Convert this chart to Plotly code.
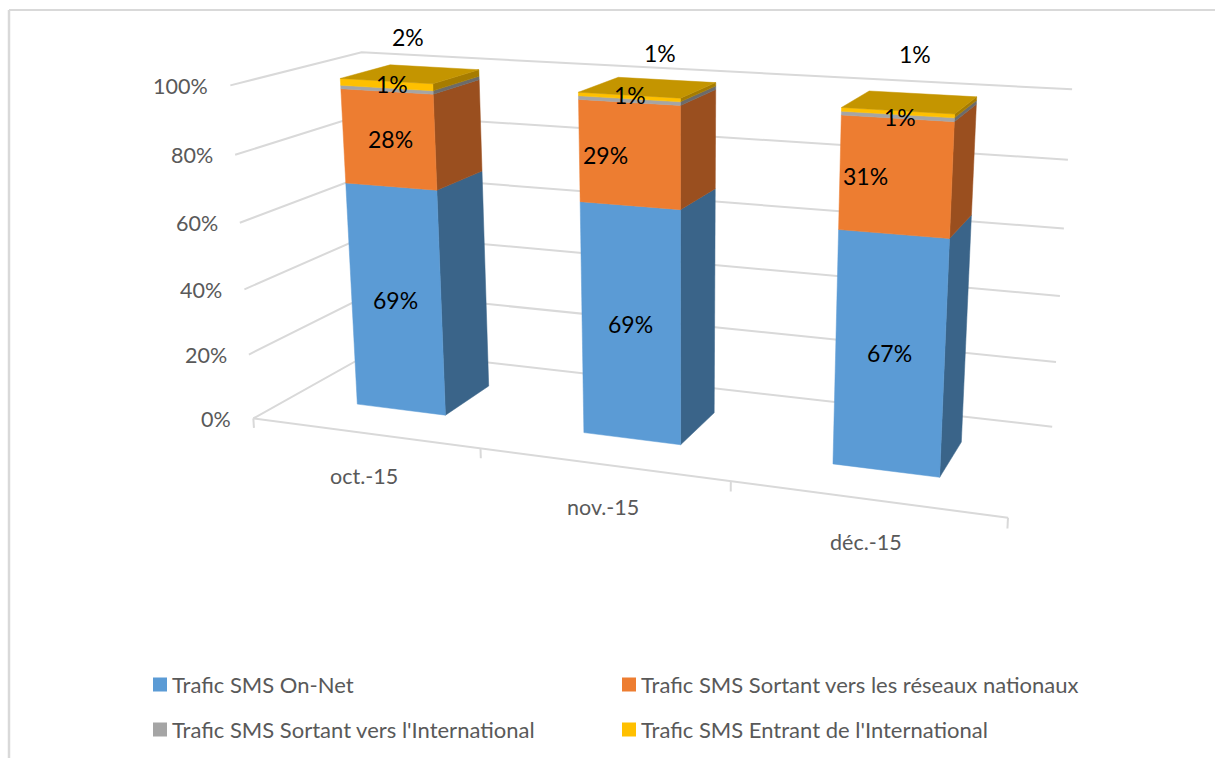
import numpy as np
import plotly.graph_objects as go

# ---- data ----
months = ["oct.-15", "nov.-15", "déc.-15"]
on_net = [69, 69, 67]
nationaux = [28, 29, 31]
sortant_intl = [1, 1, 1]
entrant_intl = [2, 1, 1]
pct_ticks = [0, 20, 40, 60, 80, 100]

series_names = [
    "Trafic SMS On-Net",
    "Trafic SMS Sortant vers les réseaux nationaux",
    "Trafic SMS Sortant vers l'International",
    "Trafic SMS Entrant de l'International",
]
series_values = [on_net, nationaux, sortant_intl, entrant_intl]

# ---- styles ----
FRONT = ["#5B9BD5", "#ED7D31", "#A5A5A5", "#FFC000"]
SIDE = ["#3A6489", "#9A4F1F", "#6B6B6B", "#A67C00"]
TOP = "#C49500"
GRID = "#D9D9D9"
FONT = "Lato"

# ---- projection of the Excel 3-D box (category, depth, percent) onto the page ----
ref_world = [(0, 0, 0), (1, 0, 0), (2, 0, 0), (3, 0, 0), (3, 1, 0), (0, 1, 0),
             (0, 0, 100), (0, 1, 100), (3, 1, 100)]
ref_page = [(253, 418), (481, 448), (731, 481), (1008, 518), (1052, 427), (376, 350),
            (230, 86), (362, 52), (1072, 89)]
rows = []
for (wx, wy, wz), (px, py) in zip(ref_world, ref_page):
    v = [wx, wy, wz / 100, 1]
    rows.append(v + [0, 0, 0, 0] + [-px * c for c in v])
    rows.append([0, 0, 0, 0] + v + [-py * c for c in v])
P = np.linalg.svd(np.array(rows, float))[2][-1].reshape(3, 4)


def proj(cat, depth, pct):
    h = P @ np.array([cat, depth, pct / 100, 1.0])
    return float(h[0] / h[2]), float(h[1] / h[2])


def line(points):
    xy = [proj(*p) for p in points]
    return [a for a, _ in xy], [b for _, b in xy]


fig = go.Figure()


def add_poly(points, color, name):
    x, y = line(points)
    fig.add_trace(go.Scatter(x=x + x[:1], y=y + y[:1], mode="lines", fill="toself",
                             fillcolor=color, line=dict(color=color, width=0.5),
                             name=name, showlegend=False, hoverinfo="name"))


def add_line(points, name="grille"):
    x, y = line(points)
    fig.add_trace(go.Scatter(x=x, y=y, mode="lines", line=dict(color=GRID, width=2),
                             name=name, showlegend=False, hoverinfo="skip"))


# walls and floor edge
for t in pct_ticks:
    add_line([(0, 0, t), (0, 1, t), (3, 1, t)])
add_line([(0, 0, 0), (3, 0, 0)], "axe")
for i in range(len(months) + 1):
    add_line([(i, 0, 0), (i, 0, -3)], "graduation")

# stacked columns
GAP = 0.3
for i in range(len(months)):
    x0, x1 = i + GAP, i + 1 - GAP
    y0, y1 = GAP, 1 - GAP
    base = 0
    for s, vals in enumerate(series_values):
        top = base + vals[i]
        add_poly([(x1, y0, base), (x1, y1, base), (x1, y1, top), (x1, y0, top)], SIDE[s], series_names[s])
        add_poly([(x0, y0, base), (x1, y0, base), (x1, y0, top), (x0, y0, top)], FRONT[s], series_names[s])
        base = top
    add_poly([(x0, y0, base), (x1, y0, base), (x1, y1, base), (x0, y1, base)], TOP, series_names[-1])

annots = []


def note(x, y, text, size, color, dx=0, dy=0, xanchor="center"):
    annots.append(dict(x=x, y=y, xref="x", yref="y", text=text, showarrow=False,
                       xanchor=xanchor, yanchor="middle", xshift=dx, yshift=-dy,
                       font=dict(family=FONT, size=size, color=color)))


# value axis labels
for t in pct_ticks:
    x, y = proj(0, 0, t)
    note(x, y, f"{t}%", 21.5, "#595959", dx=-20, dy=0.5, xanchor="right")

# category labels
for i, m in enumerate(months):
    x, y = proj(i + 0.5, 0, 0)
    note(x, y, m, 21.5, "#595959", dy=43)

# data labels, with the manual offsets seen on the chart (month, series)
label_offsets = [
    [(-1, 0), (2, 0), (5, -6), (22, -48)],
    [(0, 0), (-24, 1), (1, -6), (31, -44)],
    [(0, -1), (-30, -1), (3, 1), (18, -59)],
]
for i in range(len(months)):
    base = 0
    for s, vals in enumerate(series_values):
        mid = base + vals[i] / 2
        x, y = proj(i + 0.5, GAP, mid)
        dx, dy = label_offsets[i][s]
        note(x, y, f"{vals[i]}%", 23, "#000000", dx, dy)
        base += vals[i]

# legend
legend_cols = [153, 622]
legend_rows = [684.5, 729.5]
for s, name in enumerate(series_names):
    lx, ly = legend_cols[s % 2], legend_rows[s // 2]
    fig.add_trace(go.Scatter(x=[lx + 7], y=[ly], mode="markers",
                             marker=dict(symbol="square", size=14, color=FRONT[s], line=dict(width=0)),
                             name=name, showlegend=False, hoverinfo="name"))
    note(lx + 17, ly, name, 22, "#595959", xanchor="left")

fig.update_layout(
    width=1215, height=758, margin=dict(l=0, r=0, t=0, b=0),
    paper_bgcolor="white", plot_bgcolor="white",
    xaxis=dict(range=[0, 1215], visible=False, fixedrange=True),
    yaxis=dict(range=[758, 0], visible=False, fixedrange=True),
    annotations=annots,
    shapes=[
        dict(type="line", xref="paper", yref="paper", x0=9 / 1215, x1=1, y0=1 - 10 / 758, y1=1 - 10 / 758,
             line=dict(color=GRID, width=2)),
        dict(type="line", xref="paper", yref="paper", x0=9 / 1215, x1=9 / 1215, y0=0, y1=1 - 10 / 758,
             line=dict(color=GRID, width=2.5)),
    ],
)
fig.write_html("out.html", post_script="document.body.style.margin='0';",
               config={"displayModeBar": False})
